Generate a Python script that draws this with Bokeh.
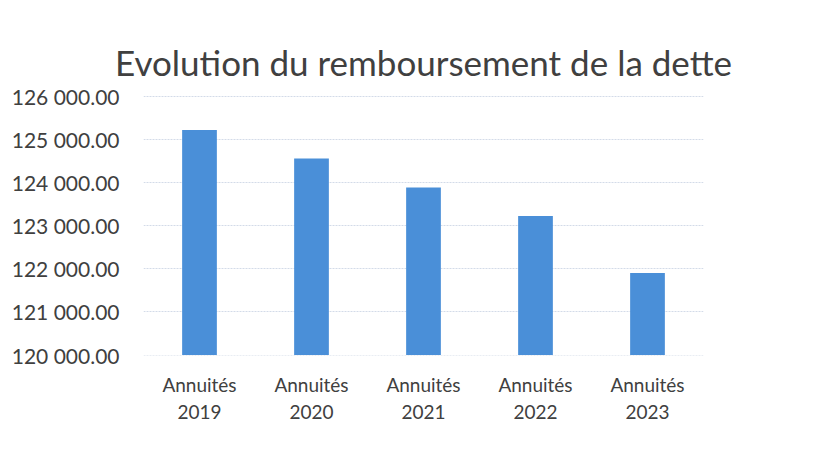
from bokeh.plotting import figure
from bokeh.models import Range1d, FixedTicker, CustomJSTickFormatter, ColumnDataSource
from bokeh.embed import file_html
from bokeh.resources import INLINE

categories = ["Annuités\n2019", "Annuités\n2020", "Annuités\n2021", "Annuités\n2022", "Annuités\n2023"]
values = [125215, 124553, 123885, 123223, 121900]
y_ticks = [120000, 121000, 122000, 123000, 124000, 125000, 126000]
base = 120000

FONT = "Lato"
TXT = "#404040"

src = ColumnDataSource(dict(cat=categories, val=values))

p = figure(x_range=categories, y_range=Range1d(119990, 126015),
           width=805, height=445, output_backend="svg", toolbar_location=None,
           min_border_left=143, min_border_right=102, min_border_top=95, min_border_bottom=90)
p.title.text = "Evolution du remboursement de la dette"
p.title.align = "center"
p.title.text_font = FONT
p.title.text_font_size = "35px"
p.title.text_font_style = "normal"
p.title.text_color = TXT
p.title.offset = 6
p.title.standoff = 25

p.vbar(x="cat", top="val", bottom=base, width=0.31, source=src,
       fill_color="#4a8fd8", line_color=None)

p.yaxis.ticker = FixedTicker(ticks=y_ticks)
p.yaxis.formatter = CustomJSTickFormatter(code="""
return tick.toFixed(2).replace(/\\B(?=(\\d{3})+(?!\\d))/g, ' ');
""")
for ax in (p.xaxis, p.yaxis):
    ax.axis_line_color = None
    ax.major_tick_line_color = None
    ax.minor_tick_line_color = None
    ax.major_label_text_font = FONT
    ax.major_label_text_color = TXT
p.yaxis.major_label_text_font_size = "21px"
p.xaxis.major_label_text_font_size = "19px"
p.yaxis.major_label_standoff = 18
p.xaxis.major_label_standoff = 11

p.xgrid.grid_line_color = None
p.ygrid.grid_line_color = "#d3dbe8"
p.ygrid.grid_line_width = 1
p.ygrid.grid_line_dash = "2 1"
p.outline_line_color = None
p.border_fill_color = "white"
p.background_fill_color = "white"

open("out.html", "w").write(file_html(p, INLINE))
